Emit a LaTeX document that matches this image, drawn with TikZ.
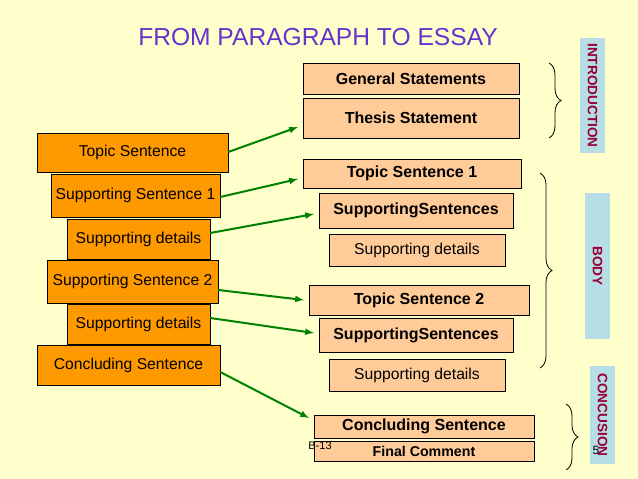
\documentclass[tikz,border=0pt]{standalone}
\usepackage{fontspec}
\setmainfont{Liberation Sans}
\usetikzlibrary{decorations.pathreplacing}
\definecolor{bg}{HTML}{FFFFCC}
\definecolor{lbox}{HTML}{FF9900}
\definecolor{rbox}{HTML}{FFCC99}
\definecolor{side}{HTML}{B7DEE6}
\definecolor{sidetxt}{HTML}{990033}
\definecolor{arr}{HTML}{008000}
\definecolor{ttl}{HTML}{6633CC}
\begin{document}
\begin{tikzpicture}[x=1pt,y=-1pt,
 lb/.style={draw=black,fill=lbox,inner sep=1pt,font=\fontsize{15.7}{17}\selectfont},
 rb/.style={draw=black,fill=rbox,inner sep=1pt,font=\fontsize{16}{17}\selectfont\bfseries},
 rn/.style={draw=black,fill=rbox,inner sep=1pt,font=\fontsize{15.7}{17}\selectfont},
 sb/.style={fill=side,text=sidetxt,inner sep=1pt,font=\fontsize{13.6}{15}\selectfont\bfseries},
 ar/.style={draw=arr,line width=2pt,-latex},
 br/.style={decorate,decoration={brace,amplitude=12pt},line width=0.8pt}]
\fill[bg] (0,0) rectangle (638,479);
\useasboundingbox (0,0) rectangle (638,479);
\node[text=ttl,font=\fontsize{24.6}{28}\selectfont] (title) at (318,37) {FROM PARAGRAPH TO ESSAY};
% left
\node[lb,minimum width=191,minimum height=39] (l1) at (132.5,152.5) {Topic Sentence};
\node[lb,minimum width=169,minimum height=43] (l2) at (135.5,195.5) {Supporting Sentence 1};
\node[lb,minimum width=143,minimum height=40] (l3) at (138.5,239) {Supporting details};
\node[lb,minimum width=171,minimum height=43] (l4) at (132.5,281.5) {Supporting Sentence 2};
\node[lb,minimum width=143,minimum height=40] (l5) at (138.5,324) {Supporting details};
\node[lb,minimum width=183,minimum height=40] (l6) at (128.5,365) {Concluding Sentence};
% right
\node[rb,minimum width=216,minimum height=31] (r1) at (411,78.5) {General Statements};
\node[rb,minimum width=216,minimum height=40] (r2) at (411,118) {Thesis Statement};
\node[rb,minimum width=218,minimum height=29] (r3) at (412,173.5) {Topic Sentence 1};
\node[rb,minimum width=194,minimum height=35] (r4) at (416,210.5) {SupportingSentences};
\node[rn,minimum width=176,minimum height=32] (r5) at (417,250) {Supporting details};
\node[rb,minimum width=220,minimum height=30] (r6) at (419,300) {Topic Sentence 2};
\node[rb,minimum width=194,minimum height=34] (r7) at (416,335) {SupportingSentences};
\node[rn,minimum width=176,minimum height=32] (r8) at (417,375) {Supporting details};
\node[rb,minimum width=220,minimum height=23,inner sep=0] (r9) at (424,426.5) {Concluding Sentence};
\node[rb,minimum width=220,minimum height=20,inner sep=0,font=\fontsize{14.2}{15}\selectfont\bfseries] (r10) at (424,451) {Final Comment};
\node[font=\fontsize{11}{12}\selectfont,inner sep=0] (b13) at (320,446) {B-13};
% arrows
\coordinate (a1) at (298,127); \coordinate (a2) at (298,179);
\coordinate (a3) at (314,214); \coordinate (a4) at (304,300);
\coordinate (a5) at (314,333); \coordinate (a6) at (309,418);
\draw[ar] (l1.east |- 0,152) -- (a1);
\draw[ar] (l2.east |- 0,197) -- (a2);
\draw[ar] (l3.east |- 0,233) -- (a3);
\draw[ar] (l4.east |- 0,290) -- (a4);
\draw[ar] (l5.east |- 0,318) -- (a5);
\draw[ar] (l6.east |- 0,372) -- (a6);
% braces
\draw[br] (549,63) -- (549,138);
\draw[br] (540,173) -- (540,368);
\draw[br] (566,404) -- (566,470);
% side labels
\node[sb,rotate=-90,minimum width=115,minimum height=25] (s1) at (592.5,95.5) {INTRODUCTION};
\node[sb,rotate=-90,minimum width=146,minimum height=25] (s2) at (597.5,266) {BODY};
\node[sb,rotate=-90,minimum width=98,minimum height=25] (s3) at (602.5,415) {CONCUSION};
\node[font=\fontsize{12}{13}\selectfont] (pg) at (596,450) {5};
\end{tikzpicture}
\end{document}
